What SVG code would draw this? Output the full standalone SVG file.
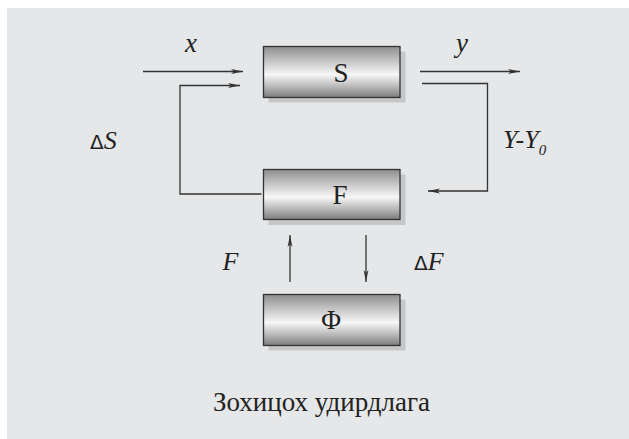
<svg xmlns="http://www.w3.org/2000/svg" width="629" height="439" viewBox="0 0 629 439">
<style>
.ln{fill:none;stroke:#333;stroke-width:1.3}
.box{fill:url(#g);stroke:#333;stroke-width:1.3}
.sh{fill:#c6c7c9}
.t{font-family:"Liberation Serif","Times New Roman",serif;fill:#222}
.i{font-style:italic}
</style>
<defs>
<linearGradient id="g" x1="0" y1="0" x2="0" y2="1">
<stop offset="0" stop-color="#8e8e8e"/>
<stop offset="0.3" stop-color="#c8c8c8"/>
<stop offset="0.55" stop-color="#f7f7f7"/>
<stop offset="0.8" stop-color="#b5b5b5"/>
<stop offset="1" stop-color="#7c7c7c"/>
</linearGradient>
<marker id="a" viewBox="0 0 12 6" refX="12" refY="3" markerWidth="12" markerHeight="6" markerUnits="userSpaceOnUse" orient="auto">
<path d="M0,0.6 L12,3 L0,5.4 L3,3 Z" fill="#333"/>
</marker>
</defs>
<rect x="7" y="8" width="622" height="431" fill="#e6e7e8"/>
<g id="connectors">
<line class="ln" x1="143" y1="71.5" x2="243" y2="71.5" marker-end="url(#a)"/>
<polyline class="ln" points="261.5,194 180,194 180,85.5 240,85.5" marker-end="url(#a)"/>
<line class="ln" x1="420" y1="71.5" x2="520" y2="71.5" marker-end="url(#a)"/>
<polyline class="ln" points="422,83.5 487.5,83.5 487.5,191 428,191" marker-end="url(#a)"/>
<line class="ln" x1="290" y1="282" x2="290" y2="235" marker-end="url(#a)"/>
<line class="ln" x1="366" y1="235" x2="366" y2="282" marker-end="url(#a)"/>
</g>
<g id="S">
<rect class="sh" x="268.5" y="51.5" width="137" height="51"/>
<rect class="box" x="263.5" y="46.5" width="136.5" height="51"/>
<text class="t" x="341" y="81.5" font-size="27" text-anchor="middle">S</text>
</g>
<g id="F">
<rect class="sh" x="268.5" y="174.5" width="137" height="50.5"/>
<rect class="box" x="263.5" y="169.5" width="136.5" height="50"/>
<text class="t" x="340" y="204" font-size="27" text-anchor="middle">F</text>
</g>
<g id="Phi">
<rect class="sh" x="268.5" y="299.5" width="137" height="51"/>
<rect class="box" x="263.5" y="294.5" width="136.5" height="51"/>
<text class="t" x="331" y="329" font-size="27" text-anchor="middle">Φ</text>
</g>
<g id="labels">
<text class="t i" x="191" y="51.5" font-size="27" text-anchor="middle">x</text>
<text class="t i" x="462" y="51.5" font-size="27" text-anchor="middle">y</text>
<text class="t" x="90" y="149" font-size="26"><tspan font-family="DejaVu Sans" font-size="20">Δ</tspan><tspan class="i">S</tspan></text>
<text class="t i" x="503" y="148" font-size="26">Y-Y<tspan font-size="15" dy="7">0</tspan></text>
<text class="t i" x="222.5" y="270" font-size="26">F</text>
<text class="t" x="414" y="270" font-size="26"><tspan font-family="DejaVu Sans" font-size="20">Δ</tspan><tspan class="i">F</tspan></text>
<text class="t" x="321.5" y="410.5" font-size="27" text-anchor="middle">Зохицох удирдлага</text>
</g>
</svg>
